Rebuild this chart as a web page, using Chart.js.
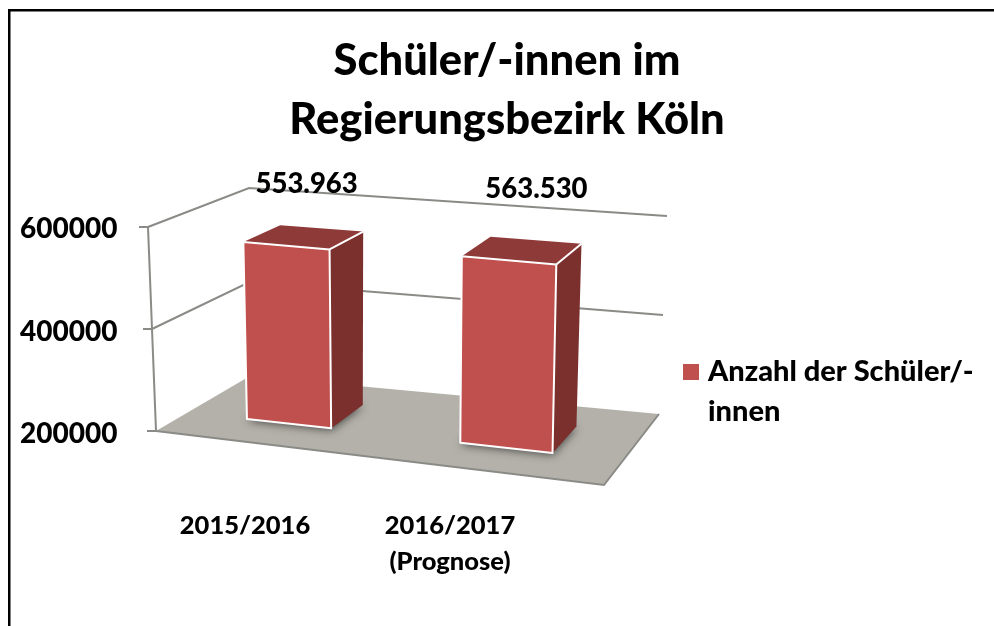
<!DOCTYPE html>
<html lang="de">
<head>
<meta charset="utf-8">
<title>Schüler/-innen im Regierungsbezirk Köln</title>
<script src="https://cdn.jsdelivr.net/npm/chart.js@4"></script>
<style>
  html, body { margin: 0; padding: 0; background: #fff; }
  canvas { display: block; }
</style>
</head>
<body>
<canvas id="chart" width="994" height="626"></canvas>
<script>
const FONT = "Lato, 'Open Sans', sans-serif";

const categories = ['2015/2016', ['2016/2017', '(Prognose)']];
const seriesName = ['Anzahl der Schüler/-', 'innen'];
const pupils = [553963, 563530];
const valueLabels = ['553.963', '563.530'];
const yMin = 200000;
const yMax = 600000;
const yStep = 200000;

// ── 3D box: corners of the floor and of the top plane (v = 1) ──────
const floorQuad = { fl: [156, 431], fr: [604, 485], bl: [250, 376], br: [659, 414] };
const topQuad   = { fl: [148, 227], fr: [609, 270], bl: [249, 188], br: [667, 216] };
const barDepth  = [0.34, 0.73];
const sShift    = -0.0175;

const lerp = (a, b, t) => a + (b - a) * t;
const lerpPt = (p, q, t) => [lerp(p[0], q[0], t), lerp(p[1], q[1], t)];

function onQuad(q, s, d) {
  return lerpPt(lerpPt(q.fl, q.fr, s), lerpPt(q.bl, q.br, s), d);
}
function project(s, d, v) {
  return lerpPt(onQuad(floorQuad, s, d), onQuad(topQuad, s, d), v);
}

function poly(ctx, pts) {
  ctx.beginPath();
  pts.forEach((p, i) => (i ? ctx.lineTo(p[0], p[1]) : ctx.moveTo(p[0], p[1])));
  ctx.closePath();
}

const box3d = {
  id: 'box3d',

  beforeDraw(chart) {
    const ctx = chart.ctx;
    ctx.save();
    ctx.fillStyle = '#fff';
    ctx.fillRect(0, 0, chart.width, chart.height);
    // frame of the original picture, cut off right and below
    ctx.fillStyle = '#000';
    ctx.fillRect(8, 9, chart.width - 8, 2.5);
    ctx.fillRect(8, 9, 2.5, chart.height - 9);
    ctx.restore();
  },

  beforeDatasetsDraw(chart) {
    const ctx = chart.ctx;
    const y = chart.scales.y;
    const h = y.bottom - y.top;
    ctx.save();

    // floor
    poly(ctx, [project(0, 0, 0), project(1, 0, 0), project(1, 1, 0), project(0, 1, 0)]);
    ctx.fillStyle = '#b3b1a9';
    ctx.fill();
    ctx.strokeStyle = '#8a8a86';
    ctx.lineWidth = 2;
    ctx.beginPath();
    ctx.moveTo(...project(0, 0, 0));
    ctx.lineTo(...project(1, 0, 0));
    ctx.lineTo(...project(1, 1, 0));
    ctx.stroke();

    // walls: one line per y tick
    y.ticks.forEach(t => {
      const v = (y.bottom - y.getPixelForValue(t.value)) / h;
      const a = project(0, 0, v);
      if (v > 0) {
        ctx.beginPath();
        ctx.moveTo(...a);
        ctx.lineTo(...project(0, 1, v));
        ctx.lineTo(...project(1, 1, v));
        ctx.stroke();
      }
      ctx.beginPath();
      ctx.moveTo(a[0] - 9, a[1]);
      ctx.lineTo(a[0], a[1]);
      ctx.stroke();
    });
    ctx.beginPath();
    ctx.moveTo(...project(0, 0, 0));
    ctx.lineTo(...project(0, 0, 1));
    ctx.stroke();
    ctx.restore();
  },

  afterDatasetsDraw(chart) {
    const ctx = chart.ctx;
    const { x: xs, y } = chart.scales;
    const w = xs.right - xs.left;
    const h = y.bottom - y.top;
    const [d0, d1] = barDepth;

    chart.getDatasetMeta(0).data.forEach((bar, i) => {
      // bars nearer the viewer (to the right) come out a little wider
      const c = (bar.x - xs.left) / w;
      const half = (bar.width / 2 / w) * (0.9 + 0.18 * c);
      const s0 = c - half + sShift;
      const s1 = c + half + sShift;
      const v0 = (y.bottom - bar.base) / h;
      const v1 = (y.bottom - bar.y) / h;

      ctx.save();
      // soft shadow on the floor
      ctx.save();
      ctx.shadowColor = 'rgba(40,40,40,0.75)';
      ctx.shadowBlur = 9;
      ctx.shadowOffsetY = 2;
      poly(ctx, [project(s0, d0, v0), project(s1, d0, v0), project(s1, d1, v0), project(s0, d1, v0)]);
      ctx.fillStyle = '#7b302e';
      ctx.fill();
      ctx.restore();

      ctx.lineJoin = 'round';
      ctx.strokeStyle = '#fff';
      ctx.lineWidth = 2;

      // side
      poly(ctx, [project(s1, d0, v0), project(s1, d1, v0), project(s1, d1, v1), project(s1, d0, v1)]);
      ctx.fillStyle = '#7b302e';
      ctx.fill();
      // top
      poly(ctx, [project(s0, d0, v1), project(s1, d0, v1), project(s1, d1, v1), project(s0, d1, v1)]);
      ctx.fillStyle = '#8e3a38';
      ctx.fill();
      // front
      poly(ctx, [project(s0, d0, v0), project(s1, d0, v0), project(s1, d0, v1), project(s0, d0, v1)]);
      ctx.fillStyle = '#c0504d';
      ctx.fill();
      ctx.stroke();
      // white edge towards the back of the top
      ctx.beginPath();
      ctx.moveTo(...project(s1, d0, v1));
      ctx.lineTo(...project(s1, d1, v1));
      ctx.stroke();
      ctx.restore();

      // value labels float above the box
      const top = project((s0 + s1) / 2, d1, 1);
      ctx.save();
      ctx.fillStyle = '#000';
      ctx.font = '900 27.5px ' + FONT;
      ctx.textAlign = 'center';
      ctx.textBaseline = 'middle';
      ctx.fillText(valueLabels[i], top[0] + (i ? 0 : -15), i ? 189 : 184);
      ctx.restore();
    });
  },

  afterDraw(chart) {
    // legend, wrapped on two lines like the original
    const ctx = chart.ctx;
    ctx.save();
    ctx.fillStyle = '#c0504d';
    ctx.fillRect(683, 364, 16, 16);
    ctx.fillStyle = '#000';
    ctx.font = '900 29px ' + FONT;
    ctx.textAlign = 'left';
    ctx.textBaseline = 'middle';
    seriesName.forEach((line, i) => ctx.fillText(line, 708, 372 + i * 40));
    ctx.restore();
  },
};

new Chart(document.getElementById('chart'), {
  type: 'bar',
  data: {
    labels: categories,
    datasets: [{
      label: seriesName.join(''),
      data: pupils,
      base: yMin,
      backgroundColor: 'rgba(0,0,0,0)',
      borderWidth: 0,
      barPercentage: 0.41,
      categoryPercentage: 1,
    }],
  },
  options: {
    responsive: false,
    animation: false,
    layout: { padding: { left: 20, right: 0, top: 31, bottom: 0 } },
    plugins: {
      legend: { display: false },
      tooltip: { enabled: false },
      title: {
        display: true,
        text: ['Schüler/-innen im', 'Regierungsbezirk Köln'],
        color: '#000',
        font: { family: FONT, size: 43.5, weight: '900', lineHeight: 1.36 },
        padding: { top: 0, bottom: 80 },
      },
    },
    scales: {
      x: {
        grid: { display: false },
        border: { display: false },
        ticks: {
          color: '#000',
          font: { family: FONT, size: 25.5, weight: '900', lineHeight: 1.41 },
          padding: 66,
          maxRotation: 0,
          autoSkip: false,
        },
        afterFit(s) { s.height = 192; },
      },
      y: {
        min: yMin,
        max: yMax,
        grid: { display: false },
        border: { display: false },
        ticks: {
          stepSize: yStep,
          callback: v => String(v),
          color: '#000',
          font: { family: FONT, size: 28, weight: '900' },
          padding: 17,
        },
        afterFit(s) { s.width = 122.5; },
      },
      // keeps the space on the right free for the legend
      spare: {
        type: 'linear',
        position: 'right',
        grid: { display: false },
        border: { display: false },
        ticks: { display: false },
        afterFit(s) { s.width = 441.5; },
      },
    },
  },
  plugins: [box3d],
});
</script>
</body>
</html>
